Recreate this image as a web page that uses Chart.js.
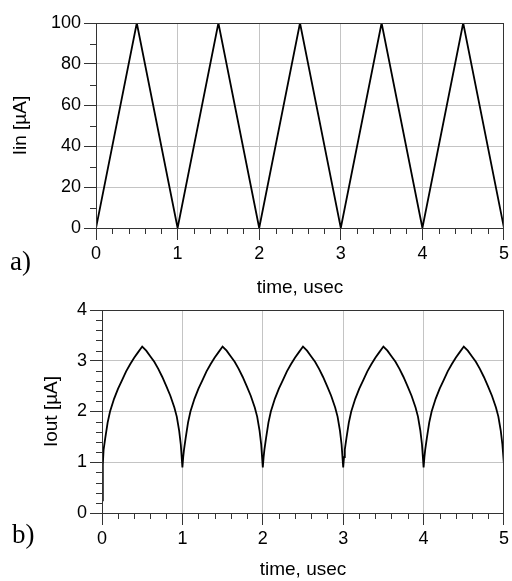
<!DOCTYPE html>
<html>
<head>
<meta charset="utf-8">
<script src="https://cdn.jsdelivr.net/npm/chart.js@4"></script>
<style>
  body { margin: 0; background: #fff; }
  #wrap { position: relative; width: 512px; height: 581px; overflow: hidden; }
  canvas { position: absolute; left: 0; }
</style>
</head>
<body>
<div id="wrap">
  <canvas id="chart-a" width="512" height="300" style="top:0"></canvas>
  <canvas id="chart-b" width="512" height="291" style="top:290px"></canvas>
</div>
<script>
// a) input current, triangle wave
const timeIn = [0, 0.5, 1, 1.5, 2, 2.5, 3, 3.5, 4, 4.5, 5];
const iin = [0, 100, 0, 100, 0, 100, 0, 100, 0, 100, 0];

// b) output current
const timeOut = [
  0, 0.01, 0.02, 0.04, 0.07, 0.1, 0.15, 0.2, 0.25, 0.3, 0.35, 0.4, 0.45, 0.5, 0.55, 0.6, 0.65, 0.7, 0.75, 0.8, 0.85, 0.9, 0.93, 0.96, 0.98,
  1, 1.01, 1.02, 1.04, 1.07, 1.1, 1.15, 1.2, 1.25, 1.3, 1.35, 1.4, 1.45, 1.5, 1.55, 1.6, 1.65, 1.7, 1.75, 1.8, 1.85, 1.9, 1.93, 1.96, 1.98,
  2, 2.01, 2.02, 2.04, 2.07, 2.1, 2.15, 2.2, 2.25, 2.3, 2.35, 2.4, 2.45, 2.5, 2.55, 2.6, 2.65, 2.7, 2.75, 2.8, 2.85, 2.9, 2.93, 2.96, 2.98,
  3, 3.01, 3.02, 3.04, 3.07, 3.1, 3.15, 3.2, 3.25, 3.3, 3.35, 3.4, 3.45, 3.5, 3.55, 3.6, 3.65, 3.7, 3.75, 3.8, 3.85, 3.9, 3.93, 3.96, 3.98,
  4, 4.01, 4.02, 4.04, 4.07, 4.1, 4.15, 4.2, 4.25, 4.3, 4.35, 4.4, 4.45, 4.5, 4.55, 4.6, 4.65, 4.7, 4.75, 4.8, 4.85, 4.9, 4.93, 4.96, 4.98,
  5
];
const iout = [
  0.25, 0.95, 1.25, 1.47, 1.78, 2.0, 2.25, 2.45, 2.62, 2.79, 2.93, 3.06, 3.17, 3.28, 3.2, 3.09, 2.98, 2.84, 2.68, 2.5, 2.31, 2.08, 1.9, 1.62, 1.35,
  0.9, 1.1, 1.25, 1.47, 1.78, 2.0, 2.25, 2.45, 2.62, 2.79, 2.93, 3.06, 3.17, 3.28, 3.2, 3.09, 2.98, 2.84, 2.68, 2.5, 2.31, 2.08, 1.9, 1.62, 1.35,
  0.9, 1.1, 1.25, 1.47, 1.78, 2.0, 2.25, 2.45, 2.62, 2.79, 2.93, 3.06, 3.17, 3.28, 3.2, 3.09, 2.98, 2.84, 2.68, 2.5, 2.31, 2.08, 1.9, 1.62, 1.35,
  0.9, 1.1, 1.25, 1.47, 1.78, 2.0, 2.25, 2.45, 2.62, 2.79, 2.93, 3.06, 3.17, 3.28, 3.2, 3.09, 2.98, 2.84, 2.68, 2.5, 2.31, 2.08, 1.9, 1.62, 1.35,
  0.9, 1.1, 1.25, 1.47, 1.78, 2.0, 2.25, 2.45, 2.62, 2.79, 2.93, 3.06, 3.17, 3.28, 3.2, 3.09, 2.98, 2.84, 2.68, 2.5, 2.31, 2.08, 1.9, 1.62, 1.35,
  0.95
];

const xTitle = 'time, usec';
const FONT = 'Arial, "Liberation Sans", sans-serif';
const AXIS = '#333';
const GRID = '#c4c4c4';

function isInt(v) { return Math.abs(v - Math.round(v)) < 1e-6; }

// draws the box, the short minor ticks and the a)/b) mark
function frame(mark, mx, my, majorX, majorY) {
  return {
    id: 'frame',
    afterDraw(chart) {
      const c = chart.ctx, a = chart.chartArea;
      c.save();
      c.strokeStyle = AXIS;
      c.lineWidth = 1;
      c.strokeRect(a.left + 0.5, a.top + 0.5, a.right - a.left - 1, a.bottom - a.top);
      const xs = chart.scales.x, ys = chart.scales.y;
      c.beginPath();
      xs.ticks.forEach(t => {
        if (majorX(t.value)) return;
        const px = Math.round(xs.getPixelForValue(t.value)) + 0.5;
        c.moveTo(px, a.bottom); c.lineTo(px, a.bottom + 6);
      });
      ys.ticks.forEach(t => {
        if (majorY(t.value)) return;
        const py = Math.round(ys.getPixelForValue(t.value)) + 0.5;
        c.moveTo(a.left, py); c.lineTo(a.left - 6, py);
      });
      c.stroke();
      c.fillStyle = '#000';
      c.font = '27px "Liberation Serif", "Times New Roman", serif';
      c.textBaseline = 'alphabetic';
      c.fillText(mark, mx, my);
      c.restore();
    }
  };
}

function makeChart(id, xs, ys, cfg) {
  const majorX = v => isInt(v);
  const majorY = cfg.yMajor;
  return new Chart(document.getElementById(id), {
    type: 'line',
    data: {
      datasets: [{
        data: xs.map((t, i) => ({ x: t, y: ys[i] })),
        borderColor: '#000',
        borderWidth: 1.8,
        pointRadius: 0,
        tension: 0
      }]
    },
    options: {
      responsive: false,
      animation: false,
      devicePixelRatio: 1,
      layout: { padding: cfg.padding },
      plugins: { legend: { display: false }, tooltip: { enabled: false } },
      scales: {
        x: {
          type: 'linear',
          min: 0, max: 5,
          afterFit: s => { s.height = cfg.xHeight; },
          border: { display: true, color: AXIS },
          grid: {
            color: c => majorX(c.tick.value) ? GRID : 'rgba(0,0,0,0)',
            tickColor: c => majorX(c.tick.value) ? AXIS : 'rgba(0,0,0,0)',
            tickLength: 12
          },
          ticks: {
            stepSize: 0.2, autoSkip: false, maxRotation: 0, padding: 3,
            color: '#000', font: { family: FONT, size: 18 },
            callback: v => majorX(v) ? String(Math.round(v)) : ''
          },
          title: {
            display: true, text: xTitle, color: '#000',
            font: { family: FONT, size: 19 },
            padding: { top: 0, bottom: cfg.xTitlePad }
          }
        },
        y: {
          min: cfg.yMin, max: cfg.yMax,
          afterFit: s => { s.width = cfg.yWidth; },
          border: { display: true, color: AXIS },
          grid: {
            color: c => majorY(c.tick.value) ? GRID : 'rgba(0,0,0,0)',
            tickColor: c => majorY(c.tick.value) ? AXIS : 'rgba(0,0,0,0)',
            tickLength: 12
          },
          ticks: {
            stepSize: cfg.yStep, autoSkip: false, padding: 3,
            color: '#000', font: { family: FONT, size: 18 },
            callback: v => majorY(v) ? String(Math.round(v)) : ''
          },
          title: {
            display: true, text: cfg.yTitle, color: '#000',
            font: { family: FONT, size: 19 },
            padding: { top: cfg.yTitlePad, bottom: 0 }
          }
        }
      }
    },
    plugins: [frame(cfg.mark, cfg.markX, cfg.markY, majorX, majorY)]
  });
}

makeChart('chart-a', timeIn, iin, {
  padding: { left: 0, right: 5, top: 23, bottom: 0 },
  xHeight: 72, yWidth: 96, xTitlePad: 1, yTitlePad: 9,
  yMin: 0, yMax: 100, yStep: 10,
  yMajor: v => Math.abs(v / 20 - Math.round(v / 20)) < 1e-6,
  yTitle: 'Iin [µA]',
  mark: 'a)', markX: 10, markY: 270
});

makeChart('chart-b', timeOut, iout, {
  padding: { left: 0, right: 4, top: 20, bottom: 0 },
  xHeight: 68, yWidth: 102, xTitlePad: 0, yTitlePad: 40,
  yMin: 0, yMax: 4, yStep: 0.2,
  yMajor: v => isInt(v),
  yTitle: 'Iout [µA]',
  mark: 'b)', markX: 12, markY: 253
});
</script>
</body>
</html>
